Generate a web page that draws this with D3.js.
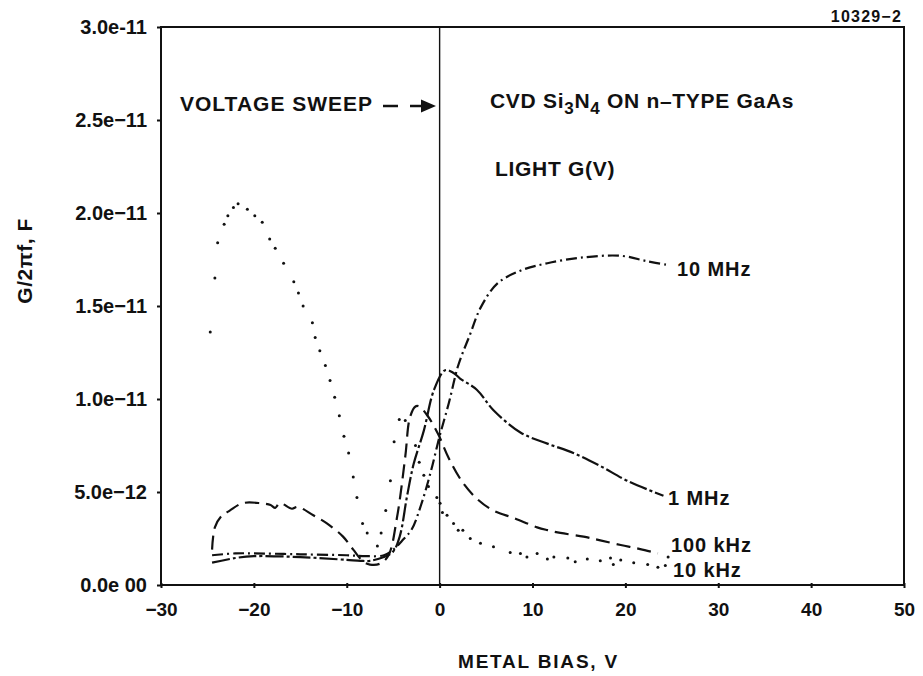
<!DOCTYPE html>
<html><head><meta charset="utf-8">
<script src="https://cdn.jsdelivr.net/npm/d3@7"></script>
<style>
html,body{margin:0;padding:0;background:#fff;}
svg text{font-family:"Liberation Sans",Arial,Helvetica,sans-serif;font-weight:bold;fill:#111;}
</style></head>
<body>
<svg id="chart" width="923" height="676"></svg>
<script>
// ---- data (G/2πf in units of 1e-12 F, bias in V) ----
const UNIT = 1e-12;
const xTicks = [-30,-20,-10,0,10,20,30,40,50];
const xTickLabels = ["\u221230","\u221220","\u221210","0","10","20","30","40","50"];
const yTicks = [0,5,10,15,20,25,30];
const yTickLabels = ["0.0e 00","5.0e\u221212","1.0e\u221211","1.5e\u221211","2.0e\u221211","2.5e\u221211","3.0e-11"];

const bias10MHz = [-24.5,-22,-20,-15,-10,-8,-6,-5,-4,-3,-2,-1,0,1,2,3.3,4.4,6.2,8.7,11.6,15.2,19.5,22.4,24.6];
const g10MHz    = [1.6,1.7,1.7,1.65,1.6,1.55,1.6,1.9,2.4,3.0,4.3,6.0,8.0,9.8,11.8,13.5,14.9,16.2,16.9,17.3,17.6,17.7,17.4,17.2];

const bias1MHz = [-24.5,-22,-20,-15,-10,-8.5,-7.5,-6,-5,-4.3,-3.5,-2.8,-1.7,-0.6,0.6,1.5,2.2,4,5.8,8.7,11.6,14.4,17.3,20.2,24.1];
const g1MHz    = [1.2,1.45,1.55,1.5,1.35,1.3,1.3,1.5,1.8,2.6,4.8,6.5,8.3,10.5,11.55,11.4,11.1,10.5,9.4,8.2,7.6,7.1,6.4,5.6,4.8];

const bias100kHz = [-24.5,-24.2,-23.5,-22.6,-21.2,-19.3,-18.2,-17.7,-17.2,-15.9,-15.3,-13.6,-12.1,-10.4,-9.3,-8.2,-7.5,-6.4,-5.5,-4.6,-3.7,-3.2,-2.6,-2.2,-1.3,-0.15,1,2.5,4.1,5.8,8,10.5,11.6,13,15.5,17.3,19.5,21.6,23.5];
const g100kHz    = [1.9,3.1,3.7,4.0,4.4,4.4,4.3,4.15,4.4,4.1,4.2,3.75,3.3,2.6,1.9,1.25,1.1,1.15,1.6,3.6,6.9,9.0,9.6,9.6,9.1,8.1,6.8,5.5,4.6,4.0,3.6,3.1,2.95,2.8,2.6,2.4,2.15,1.93,1.7];

const bias10kHz = [-24.7,-24.2,-23.9,-23.2,-22.8,-22.2,-21.7,-20.7,-19.9,-19.1,-18.3,-17.7,-16.8,-15.7,-15.2,-14.7,-13.7,-13.4,-12.9,-12.3,-11.8,-11.3,-10.8,-10.3,-9.8,-9.3,-8.9,-8.3,-7.8,-6.7,-6.3,-5.8,-5.3,-4.9,-4.35,-3.7,-2.6,-2.2,-1.7,-1.2,-0.3,0.05,0.3,0.8,1.5,2.0,2.5,3.3,4.4,5.8,7.6,8.7,9.4,10.5,11.6,12.3,13.8,14.6,15.9,17.3,18.4,18.7,19.5,20.9,22.4,23.5,24.3,24.6];
const g10kHz    = [13.6,16.5,18.4,19.4,19.85,20.3,20.5,20.2,19.85,19.5,18.6,18.1,17.3,16.3,15.7,15.0,14.1,13.3,12.6,11.8,11.0,10.1,9.1,8.0,7.1,5.8,4.7,3.3,2.8,2.1,2.8,4.0,5.6,7.7,8.9,8.85,7.5,6.6,5.9,5.3,4.7,4.4,3.9,3.75,3.3,2.95,2.95,2.5,2.25,2.05,1.75,1.7,1.5,1.7,1.4,1.5,1.45,1.25,1.4,1.3,1.45,1.1,1.35,1.2,1.1,0.95,1.05,1.5];

const seriesNames = ["10 MHz","1 MHz","100 kHz","10 kHz"];

// ---- layout ----
const svg = d3.select("#chart");
const x = d3.scaleLinear().domain([-30,50]).range([161,904]);
const y = d3.scaleLinear().domain([0,30]).range([585,27]);

const zip = (a,b)=>a.map((v,i)=>[v,b[i]]);
const line = d3.line().x(d=>x(d[0])).y(d=>y(d[1])).curve(d3.curveCatmullRom.alpha(0.5));

// frame
svg.append("rect").attr("x",x(-30)).attr("y",y(30)).attr("width",x(50)-x(-30)).attr("height",y(0)-y(30))
  .attr("fill","none").attr("stroke","#111").attr("stroke-width",2);
// vertical line at 0 V
svg.append("line").attr("x1",x(0)).attr("x2",x(0)).attr("y1",y(30)).attr("y2",y(0))
  .attr("stroke","#111").attr("stroke-width",1.4);

// axes
const xAxis = d3.axisBottom(x).tickValues(xTicks).tickSize(3).tickPadding(10).tickFormat((d,i)=>xTickLabels[i]);
const gx = svg.append("g").attr("transform",`translate(0,${y(0)})`).call(xAxis);
gx.select(".domain").remove();
gx.selectAll(".tick line").attr("stroke","#111").attr("stroke-width",2).attr("y1",-2);
gx.selectAll(".tick text").attr("font-size",19).attr("fill","#111").attr("dy","0.95em");

const yAxis = d3.axisLeft(y).tickValues(yTicks).tickSize(4).tickPadding(10).tickFormat((d,i)=>yTickLabels[i]);
const gy = svg.append("g").attr("transform",`translate(${x(-30)},0)`).call(yAxis);
gy.select(".domain").remove();
gy.selectAll(".tick line").attr("stroke","#111").attr("stroke-width",2);
gy.selectAll(".tick text").attr("font-size",20).attr("fill","#111");

// axis titles
svg.append("text").attr("x",458).attr("y",668).attr("font-size",19).attr("letter-spacing",1.8).text("METAL BIAS, V");
svg.append("text").attr("transform","translate(32,261) rotate(-90)").attr("text-anchor","middle")
  .attr("font-size",21).attr("letter-spacing",0.5).text("G/2\u03c0f,  F");
svg.append("text").attr("x",902).attr("y",22).attr("text-anchor","end").attr("font-size",16).attr("letter-spacing",1.2).text("10329\u22122");

// curves
const curves = [
  {name:seriesNames[0], data:zip(bias10MHz,g10MHz), dash:"11,4,2,4"},
  {name:seriesNames[1], data:zip(bias1MHz,g1MHz), dash:"18,3,3,3"},
  {name:seriesNames[2], data:zip(bias100kHz,g100kHz), dash:"14,7"}
];
svg.selectAll("path.curve").data(curves).join("path").attr("class","curve")
  .attr("d",d=>line(d.data))
  .attr("fill","none").attr("stroke","#111").attr("stroke-width",2.2)
  .attr("stroke-dasharray",d=>d.dash);

svg.selectAll("circle.dot").data(zip(bias10kHz,g10kHz)).join("circle").attr("class","dot")
  .attr("cx",d=>x(d[0])).attr("cy",d=>y(d[1])).attr("r",1.5).attr("fill","#111");

// curve labels
const labelPos = [[677,276],[668,505],[671,552],[673,577]];
seriesNames.forEach((n,i)=>{
  svg.append("text").attr("x",labelPos[i][0]).attr("y",labelPos[i][1]).attr("font-size",20).attr("letter-spacing",0.9).text(n);
});

// annotations
svg.append("text").attr("x",180).attr("y",111).attr("font-size",21).attr("letter-spacing",1).text("VOLTAGE SWEEP");
svg.append("line").attr("x1",383).attr("x2",398).attr("y1",106).attr("y2",106).attr("stroke","#111").attr("stroke-width",2.5);
svg.append("line").attr("x1",410).attr("x2",424).attr("y1",106).attr("y2",106).attr("stroke","#111").attr("stroke-width",2.5);
svg.append("path").attr("d","M421,99.5 L436,106 L421,112.5 Z").attr("fill","#111");

const cvd = svg.append("text").attr("x",490).attr("y",108).attr("font-size",21).attr("letter-spacing",0.7);
cvd.append("tspan").text("CVD Si");
cvd.append("tspan").attr("dy",6).attr("font-size",17).text("3");
cvd.append("tspan").attr("dy",-6).text("N");
cvd.append("tspan").attr("dy",6).attr("font-size",17).text("4");
cvd.append("tspan").attr("dy",-6).text(" ON n\u2013TYPE GaAs");
svg.append("text").attr("x",495).attr("y",176).attr("font-size",21).attr("letter-spacing",0.7).text("LIGHT G(V)");
</script>
</body></html>
